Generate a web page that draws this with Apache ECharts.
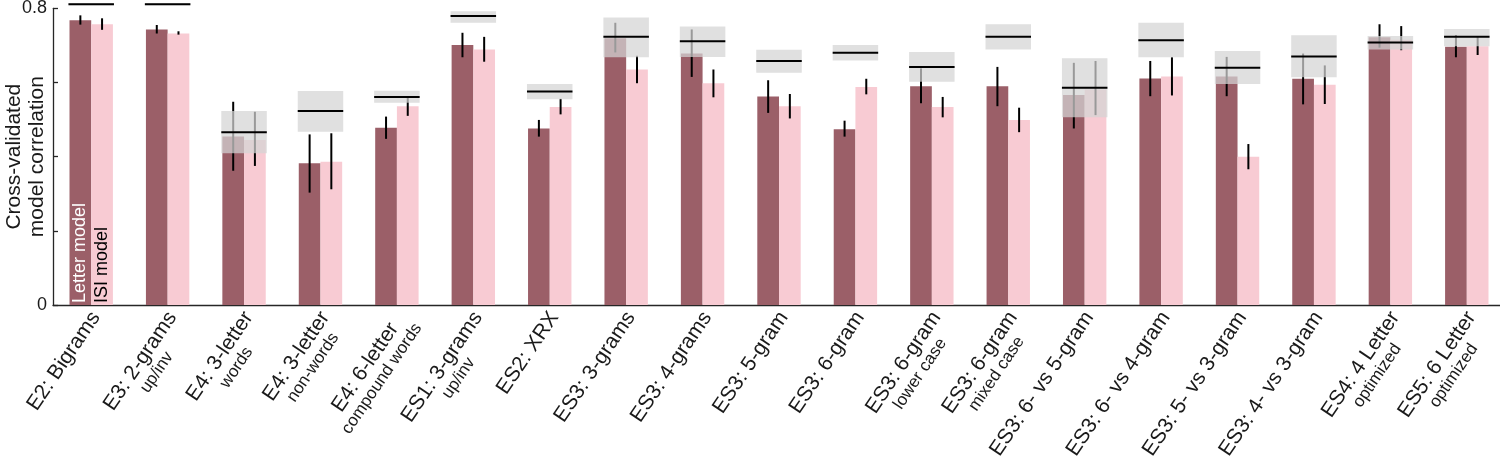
<!DOCTYPE html>
<html><head><meta charset="utf-8">
<script src="https://cdn.jsdelivr.net/npm/echarts@6/dist/echarts.min.js"></script>
<style>html,body{margin:0;padding:0;background:#fff}#c{width:1500px;height:464px}</style>
</head><body><div id="c"></div>
<script>
// ---- data ----
const categories = ["E2: Bigrams","E3: 2-grams","E4: 3-letter","E4: 3-letter","E4: 6-letter","ES1: 3-grams","ES2: XRX","ES3: 3-grams","ES3: 4-grams","ES3: 5-gram","ES3: 6-gram","ES3: 6-gram","ES3: 6-gram","ES3: 6- vs 5-gram","ES3: 6- vs 4-gram","ES3: 5- vs 3-gram","ES3: 4- vs 3-gram","ES4: 4 Letter","ES5: 6 Letter"];
const subLabels = ["","up/inv","words","non-words","compound words","up/inv","","","","","","lower case","mixed case","","","","","optimized","optimized"];
const letterModel = [0.768,0.743,0.454,0.382,0.478,0.701,0.476,0.719,0.678,0.562,0.474,0.590,0.590,0.566,0.611,0.616,0.610,0.722,0.696];
const isiModel    = [0.757,0.732,0.445,0.386,0.536,0.689,0.534,0.635,0.598,0.536,0.588,0.534,0.499,0.581,0.616,0.400,0.594,0.715,0.698];
const letterErrLo = [0.756,0.732,0.362,0.303,0.448,0.668,0.454,0.681,0.615,0.518,0.454,0.544,0.536,0.476,0.563,0.563,0.541,0.694,0.668];
const letterErrHi = [0.781,0.755,0.548,0.460,0.508,0.734,0.499,0.761,0.743,0.606,0.497,0.638,0.642,0.653,0.658,0.669,0.678,0.757,0.728];
const isiErrLo    = [0.742,0.729,0.375,0.312,0.510,0.656,0.514,0.598,0.560,0.503,0.568,0.506,0.466,0.512,0.565,0.366,0.542,0.687,0.674];
const isiErrHi    = [0.773,0.738,0.521,0.463,0.561,0.723,0.556,0.672,0.635,0.569,0.610,0.561,0.532,0.658,0.668,0.434,0.646,0.752,0.725];
const noiseCeil   = [0.811,0.811,0.466,0.523,0.561,0.779,0.576,0.723,0.711,0.658,0.680,0.642,0.723,0.586,0.714,0.640,0.670,0.708,0.723];
const noiseLo     = [0.808,0.808,0.409,0.467,0.545,0.761,0.555,0.668,0.669,0.626,0.659,0.602,0.689,0.506,0.668,0.596,0.614,0.689,0.698];
const noiseHi     = [0.814,0.814,0.523,0.577,0.578,0.792,0.596,0.775,0.751,0.688,0.701,0.682,0.757,0.665,0.761,0.685,0.727,0.725,0.744];
const yTickLabels = {"0":"0","0.8":"0.8"};

// ---- styling ----
const FONT = '"Liberation Sans", Arial, Helvetica, sans-serif';
const DARK = '#9b5f68', LIGHT = '#f8cbd3';
const BAR_W = 21.7, BAND_W = 45.5;

const chart = echarts.init(document.getElementById('c'), null, {renderer: 'canvas'});

function errSeries(lo, hi, sign) {
  return {
    type: 'custom', z: 3, clip: false, silent: true,
    data: lo.map((v, i) => [i, v, hi[i]]),
    encode: {x: 0, y: [1, 2]},
    renderItem: function (params, api) {
      const a = api.coord([api.value(0), api.value(1)]);
      const b = api.coord([api.value(0), api.value(2)]);
      const x = a[0] + sign * BAR_W / 2;
      return {type: 'line', shape: {x1: x, y1: a[1], x2: x, y2: b[1]},
              style: {stroke: '#000', lineWidth: 2}};
    }
  };
}

const option = {
  backgroundColor: '#fff',
  animation: false,
  grid: {left: 53, top: 8.3, width: 1452, bottom: 159, containLabel: false, outerBoundsMode: 'none'},
  xAxis: {
    type: 'category', data: categories,
    axisLine: {lineStyle: {color: '#262626', width: 1.3}},
    axisTick: {show: false},
    axisLabel: {
      interval: 0, rotate: 56, margin: -4, padding: [0, 8, 0, 0], align: 'right', verticalAlign: 'top', hideOverlap: false,
      formatter: (v, i) => subLabels[i] ? '{a|' + v + '}\n{b|' + subLabels[i] + '}' : '{a|' + v + '}',
      rich: {
        a: {fontFamily: FONT, fontSize: 21, color: '#1a1a1a', align: 'center', lineHeight: 22},
        b: {fontFamily: FONT, fontSize: 17, color: '#1a1a1a', align: 'center', lineHeight: 18}
      }
    }
  },
  yAxis: {
    type: 'value', min: 0, max: 0.8, interval: 0.2,
    name: 'Cross-validated\nmodel correlation', nameLocation: 'middle', nameRotate: 90, nameGap: 4,
    nameMoveOverlap: false,
    nameTextStyle: {fontFamily: FONT, fontSize: 21, color: '#1a1a1a', lineHeight: 23},
    axisLine: {show: true, lineStyle: {color: '#262626', width: 1.3}},
    axisTick: {show: true, inside: true, length: 5, lineStyle: {color: '#262626', width: 1.3}},
    splitLine: {show: false},
    axisLabel: {
      fontFamily: FONT, fontSize: 18, color: '#1a1a1a', margin: 6,
      formatter: v => { const k = String(Math.round(v * 10) / 10); return yTickLabels[k] || ''; }
    }
  },
  series: [
    {
      type: 'bar', z: 2, barWidth: BAR_W, barGap: '0%', itemStyle: {color: DARK},
      data: letterModel.map((v, i) => i === 0 ? {value: v, label: {show: true, position: 'insideBottom', rotate: 90,
        align: 'left', verticalAlign: 'middle', distance: 2, formatter: 'Letter model', fontFamily: FONT, fontSize: 18, color: '#fff'}} : v)
    },
    {
      type: 'bar', z: 2, barWidth: BAR_W, barGap: '0%', itemStyle: {color: LIGHT},
      data: isiModel.map((v, i) => i === 0 ? {value: v, label: {show: true, position: 'insideBottom', rotate: 90,
        align: 'left', verticalAlign: 'middle', distance: 2, formatter: 'ISI model', fontFamily: FONT, fontSize: 18, color: '#000'}} : v)
    },
    errSeries(letterErrLo, letterErrHi, -1),
    errSeries(isiErrLo, isiErrHi, 1),
    {
      type: 'custom', z: 4, clip: false, silent: true,
      data: noiseCeil.map((v, i) => [i, v, noiseLo[i], noiseHi[i]]),
      encode: {x: 0, y: [1, 2, 3]},
      renderItem: function (params, api) {
        const c = api.coord([api.value(0), api.value(1)]);
        const lo = api.coord([api.value(0), api.value(2)]);
        const hi = api.coord([api.value(0), api.value(3)]);
        return {type: 'group', children: [
          {type: 'rect', shape: {x: c[0] - BAND_W / 2, y: hi[1], width: BAND_W, height: lo[1] - hi[1]},
           style: {fill: 'rgba(212,212,212,0.72)'}},
          {type: 'line', shape: {x1: c[0] - BAND_W / 2, y1: c[1], x2: c[0] + BAND_W / 2, y2: c[1]},
           style: {stroke: '#000', lineWidth: 2}}
        ]};
      }
    }
  ]
};
chart.setOption(option);
</script>
</body></html>
